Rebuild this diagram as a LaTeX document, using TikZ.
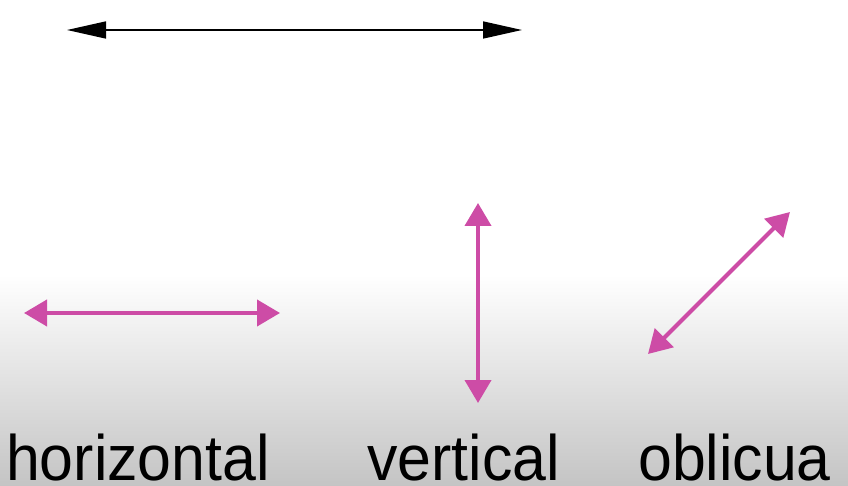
\documentclass[tikz,border=0pt]{standalone}
\usepackage{fontspec}
\setmainfont{Liberation Sans}
\usetikzlibrary{arrows.meta}
\definecolor{pinkarrow}{RGB}{205,76,166}
\definecolor{bgbottom}{RGB}{196,196,196}
\tikzset{
  pinkarr/.style={draw=pinkarrow, line width=4pt, {Triangle[length=23pt,width=26pt]}-{Triangle[length=23pt,width=26pt]}},
  blackarr/.style={draw=black, line width=1.6pt, {Triangle[length=39pt,width=17pt]}-{Triangle[length=39pt,width=17pt]}},
  lbl/.style={anchor=base west, inner sep=0pt, font=\fontsize{63}{70}\selectfont, xscale=0.965, yscale=1.02}
}
\begin{document}
\begin{tikzpicture}[x=1pt,y=-1pt]
\useasboundingbox (0,0) rectangle (848,486);
\fill[white] (0,0) rectangle (848,275);
\shade[top color=white, bottom color=bgbottom] (0,275) rectangle (848,486);
% black arrow
\coordinate (bl) at (67,30);
\coordinate (br) at (522,30);
\draw[blackarr] (bl) -- (br);
% horizontal
\coordinate (h1) at (24,313);
\coordinate (h2) at (280,313);
\draw[pinkarr] (h1) -- (h2);
% vertical
\coordinate (v1) at (478,203);
\coordinate (v2) at (478,403);
\draw[pinkarr] (v1) -- (v2);
% oblique
\coordinate (o1) at (790,212);
\coordinate (o2) at (648,354);
\draw[pinkarr] (o1) -- (o2);
% labels
\node[lbl] (th) at (6,480) {horizontal};
\node[lbl] (tv) at (367,480) {vertical};
\node[lbl] (to) at (638,480) {oblicua};
\end{tikzpicture}
\end{document}
